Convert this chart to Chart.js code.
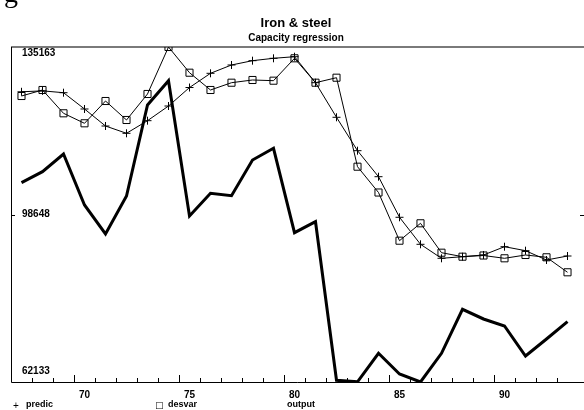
<!DOCTYPE html>
<html>
<head>
<meta charset="utf-8">
<script src="https://cdn.jsdelivr.net/npm/chart.js@4/dist/chart.umd.min.js"></script>
<style>
  html, body { margin: 0; padding: 0; background: #fff; }
  #wrap { width: 584px; height: 410px; position: relative; }
</style>
</head>
<body>
<div id="wrap"><canvas id="c" width="584" height="410"></canvas></div>
<script>
// Iron & steel: capacity regression, yearly 1967-1993
const years = [67, 68, 69, 70, 71, 72, 73, 74, 75, 76, 77, 78, 79, 80,
               81, 82, 83, 84, 85, 86, 87, 88, 89, 90, 91, 92, 93];

const predic = [125400, 125600, 125200, 121650, 117940, 116350, 119100, 122300, 126330,
                129430, 131240, 132180, 132700, 133050, 127380, 119840, 112560, 106890,
                98040, 92150, 89100, 89450, 89820, 91630, 90760, 88730, 89600];

const desvar = [124480, 125790, 120710, 118530, 123390, 119250, 124920, 135163, 129560,
                125790, 127380, 127970, 127820, 132700, 127380, 128470, 109070, 103440,
                92940, 96730, 90320, 89450, 89710, 89100, 89820, 89320, 86050];

const output = [105580, 107980, 111840, 100720, 94400, 102680, 122520, 127820, 98320,
                103270, 102750, 110530, 113080, 94680, 97080, 62500, 62170, 68390,
                63880, 62133, 68390, 77980, 75870, 74340, 67800, 71510, 75280];

const yTickValues = [62133, 98648, 135163];
const xTickLabels = [70, 75, 80, 85, 90];
const legendNames = ['predic', 'desvar', 'output'];
const legendSymbols = ['+', '\u25A1', ''];

const toPoints = (vals) => years.map((yr, i) => ({ x: yr, y: vals[i] }));

const FONT = '"Liberation Sans", Arial, Helvetica, sans-serif';

// frame, ticks, labels, titles and legend drawn on top of the library's scales
const decorations = {
  id: 'decorations',
  beforeDatasetsDraw(chart) {
    const { ctx, chartArea: a, scales: { x, y } } = chart;
    ctx.save();
    // top border
    ctx.strokeStyle = '#7a7a7a';
    ctx.lineWidth = 2;
    ctx.beginPath();
    ctx.moveTo(a.left, a.top);
    ctx.lineTo(chart.width, a.top);
    ctx.stroke();
    // left and bottom axes
    ctx.strokeStyle = '#000';
    ctx.lineWidth = 1;
    ctx.beginPath();
    ctx.moveTo(a.left + 0.5, a.top);
    ctx.lineTo(a.left + 0.5, a.bottom + 0.5);
    ctx.lineTo(chart.width, a.bottom + 0.5);
    ctx.stroke();
    // year ticks, half a year before each category, taller every fifth
    ctx.beginPath();
    for (let v = x.min + 1; v < x.max; v += 1) {
      const px = Math.round(x.getPixelForValue(v)) + 0.5;
      const major = Math.round(v + 0.5) % 5 === 0;
      ctx.moveTo(px, a.bottom);
      ctx.lineTo(px, a.bottom - (major ? 7 : 4));
    }
    // mid-value ticks on both sides
    const midY = Math.round(y.getPixelForValue(yTickValues[1])) + 0.5;
    ctx.moveTo(a.left, midY);
    ctx.lineTo(a.left + 4, midY);
    ctx.moveTo(chart.width - 4, midY);
    ctx.lineTo(chart.width, midY);
    ctx.stroke();

    ctx.fillStyle = '#000';
    // year labels
    ctx.font = 'bold 10px ' + FONT;
    ctx.textAlign = 'center';
    ctx.textBaseline = 'middle';
    xTickLabels.forEach(v => ctx.fillText(String(v), x.getPixelForValue(v), a.bottom + 13));
    // value labels inside the plot
    ctx.textAlign = 'left';
    yTickValues.forEach((v, i) => {
      let py = y.getPixelForValue(v);
      if (i === 0) py -= 11;
      else if (i === yTickValues.length - 1) py += 6;
      ctx.fillText(String(v), a.left + 11, py);
    });

    // titles
    ctx.textAlign = 'center';
    ctx.textBaseline = 'alphabetic';
    ctx.font = 'bold 13px ' + FONT;
    ctx.fillText('Iron & steel', 296, 27);
    ctx.font = 'bold 10px ' + FONT;
    ctx.fillText('Capacity regression', 296, 41);

    // clipped heading fragment in the corner
    ctx.textAlign = 'left';
    ctx.font = '28px "Liberation Serif", serif';
    ctx.fillText('g', 4, 2);

    // legend row
    const lx = [13, 155, 287];
    ctx.textBaseline = 'middle';
    legendNames.forEach((name, i) => {
      if (legendSymbols[i]) {
        ctx.font = (i === 1 ? '9px "DejaVu Sans", sans-serif' : '10px ' + FONT);
        ctx.fillText(legendSymbols[i], lx[i], 406);
      }
      ctx.font = 'bold 9px ' + FONT;
      ctx.fillText(name, lx[i] + (legendSymbols[i] ? 13 : 0), 405);
    });
    ctx.restore();
  }
};

new Chart(document.getElementById('c'), {
  type: 'line',
  data: {
    datasets: [
      {
        label: 'output',
        data: toPoints(output),
        borderColor: '#000',
        borderWidth: 3,
        pointRadius: 0,
        tension: 0,
        fill: false
      },
      {
        label: 'predic',
        data: toPoints(predic),
        borderColor: '#000',
        borderWidth: 1,
        pointStyle: 'cross',
        pointRadius: 4,
        pointBorderWidth: 1,
        pointBorderColor: '#000',
        tension: 0,
        fill: false
      },
      {
        label: 'desvar',
        data: toPoints(desvar),
        borderColor: '#000',
        borderWidth: 1,
        pointStyle: 'rect',
        pointRadius: 5,
        pointBorderWidth: 1,
        pointBorderColor: '#000',
        pointBackgroundColor: 'rgba(255,255,255,0)',
        tension: 0,
        fill: false
      }
    ]
  },
  options: {
    responsive: false,
    animation: false,
    layout: { padding: { left: 11, right: 0, top: 47, bottom: 28 } },
    scales: {
      x: { type: 'linear', min: 66.5, max: 93.5, display: false },
      y: { type: 'linear', min: yTickValues[0], max: yTickValues[2], display: false }
    },
    plugins: {
      legend: { display: false },
      tooltip: { enabled: false },
      title: { display: false }
    },
    elements: { line: { borderJoinStyle: 'miter' } }
  },
  plugins: [decorations]
});
</script>
</body>
</html>
